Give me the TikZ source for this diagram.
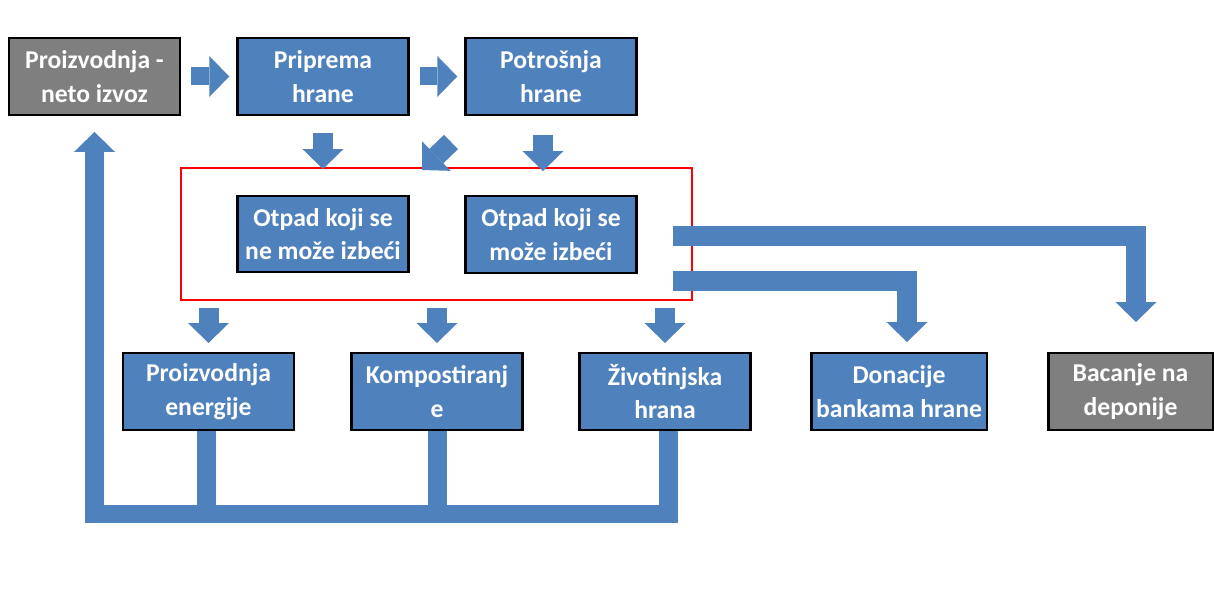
\documentclass[tikz,border=0pt]{standalone}
\usepackage{fontspec}
\setmainfont{Carlito}
\usepackage{tikz}
\usetikzlibrary{arrows.meta, positioning, calc}
\definecolor{wasteblue}{RGB}{79,129,189}
\definecolor{wastegray}{RGB}{127,127,127}
\tikzset{
  box/.style={draw=black, line width=1.4pt, fill=wasteblue, text=white,
    font=\fontsize{14.6}{19.2}\selectfont\bfseries, align=center,
    minimum width=3.42cm, minimum height=1.53cm, inner sep=0pt},
  graybox/.style={box, fill=wastegray},
  flow/.style={draw=wasteblue, line width=0.4cm,
    -{Triangle[length=0.4cm, width=0.82cm, line width=0pt]}},
  bar/.style={draw=wasteblue, line width=0.38cm}
}

\begin{document}
\begin{tikzpicture}[x=0.02cm, y=-0.02cm]
\useasboundingbox (0,0) rectangle (1214,607);
% Waste frame
\node[draw=red, line width=1.1pt, minimum width=10.22cm, minimum height=2.64cm,
  inner sep=0pt] (waste) at (436.5,234) {};
% Top row
\node[graybox, minimum width=3.41cm] (prod) at (94.5,76.5) {Proizvodnja -\\neto izvoz};
\node[box] (prip) at (323,76.5) {Priprema\\hrane};
\node[box] (potr) at (551,76.5) {Potrošnja\\hrane};
% Waste kinds
\node[box] (otpadA) at (323,234) {Otpad koji se\\ne može izbeći};
\node[box] (otpadB) at (551,234.5) {Otpad koji se\\može izbeći};
% Bottom row
\node[box] (ener) at (208.5,391.5) {Proizvodnja\\energije};
\node[box] (komp) at (437,391.5) {Kompostiranj\\e};
\node[box] (zivot) at (665,391.5) {Životinjska\\hrana};
\node[box, minimum width=3.51cm] (donac) at (899,391.5) {Donacije\\bankama hrane};
\node[graybox, minimum width=3.29cm] (bacanje) at (1130.5,391.5) {Bacanje na\\deponije};
% Chain arrows
\draw[flow, line width=0.36cm, shorten <=0.2cm, shorten >=0.14cm] (prod.east) -- (prip.west);
\draw[flow, line width=0.36cm, shorten <=0.2cm, shorten >=0.14cm] (prip.east) -- (potr.west);
\draw[flow, shorten <=0.34cm, shorten >=-0.04cm] (prip.south) -- (prip.south |- waste.north);
\draw[flow, shorten <=0.38cm, shorten >=-0.08cm]
  ([xshift=-0.16cm]potr.south) -- ([xshift=-0.16cm]potr.south |- waste.north);
\coordinate (dtail) at (451,142);
\coordinate (dtip) at (422,170);
\draw[flow] (dtail) -- (dtip);
% Out of the frame
\foreach \n in {ener,komp,zivot}
  \draw[flow, shorten <=0.14cm, shorten >=0.18cm] (\n.north |- waste.south) -- (\n.north);
\draw[flow, shorten >=0.6cm]
  ([xshift=0.7cm,yshift=-0.04cm]otpadB.east) -| ([xshift=0.11cm]bacanje.north);
\draw[flow, shorten >=0.2cm]
  ([xshift=0.7cm,yshift=-0.93cm]otpadB.east) -| ([xshift=0.16cm]donac.north);
% Feedback loop
\coordinate (back) at (96,514);
\draw[bar] ([xshift=-0.05cm]ener.south) -- ([xshift=-0.05cm]ener.south |- back);
\draw[bar] (komp.south) -- (komp.south |- back);
\draw[flow, line width=0.38cm, shorten >=0.32cm]
  ([xshift=0.07cm]zivot.south) |- (prod.south |- back) -- (prod.south);
\end{tikzpicture}
\end{document}
